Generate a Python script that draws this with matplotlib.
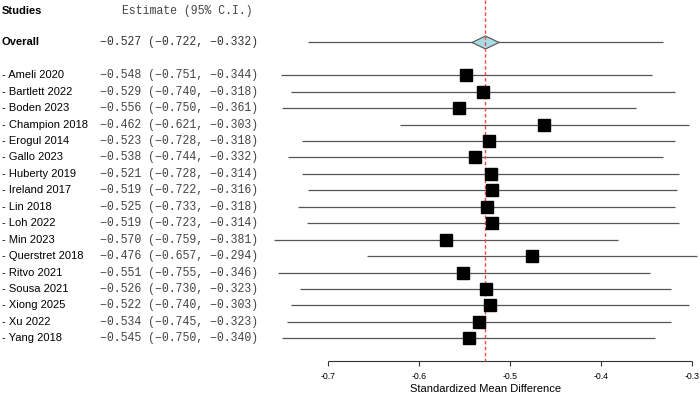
import numpy as np
import matplotlib.pyplot as plt
from matplotlib.path import Path

studies = ['Ameli 2020', 'Bartlett 2022', 'Boden 2023', 'Champion 2018', 'Erogul 2014',
           'Gallo 2023', 'Huberty 2019', 'Ireland 2017', 'Lin 2018', 'Loh 2022',
           'Min 2023', 'Querstret 2018', 'Ritvo 2021', 'Sousa 2021', 'Xiong 2025',
           'Xu 2022', 'Yang 2018']
est = [-0.548, -0.529, -0.556, -0.462, -0.523, -0.538, -0.521, -0.519, -0.525, -0.519,
       -0.570, -0.476, -0.551, -0.526, -0.522, -0.534, -0.545]
lower = [-0.751, -0.740, -0.750, -0.621, -0.728, -0.744, -0.728, -0.722, -0.733, -0.723,
         -0.759, -0.657, -0.755, -0.730, -0.740, -0.745, -0.750]
upper = [-0.344, -0.318, -0.361, -0.303, -0.318, -0.332, -0.314, -0.316, -0.318, -0.314,
         -0.381, -0.294, -0.346, -0.323, -0.303, -0.323, -0.340]
overall = (-0.527, -0.722, -0.332)
ticks = [-0.7, -0.6, -0.5, -0.4, -0.3]

W, H = 700, 395
x0_px, ppu = 327.7, 910.0      # pixel of -0.7, pixels per unit
row0_px, row_px = 75.3, 16.44  # pixel of first study row, row spacing

fig = plt.figure(figsize=(W / 100, H / 100), dpi=100)
ax = fig.add_axes([0, 0, 1, 1])
ax.set_xlim(-0.7 - x0_px / ppu, -0.7 + (W - x0_px) / ppu)
ytop = -row0_px / row_px
ax.set_ylim((H - row0_px) / row_px, ytop)
ax.axis('off')

rows = np.arange(len(studies))
ov_row = -2
head_row = -3.9
axis_row = 17.4

# CI lines and squares
ax.hlines(rows, lower, upper, color='#555555', lw=0.9, zorder=2)
ax.hlines(ov_row, overall[1], overall[2], color='#555555', lw=0.9, zorder=2)
ax.plot(est, rows, 's', ms=9, color='black', zorder=5)

# overall diamond
diamond = Path([(-1, 0), (0, 0.48), (1, 0), (0, -0.48), (-1, 0)])
ax.plot(overall[0], ov_row, marker=diamond, ms=19.5, mfc='#a9dbe2',
        mec='#555555', mew=0.8, zorder=3)

# reference line
ax.vlines(overall[0], ytop, axis_row, color='#ff4444', lw=1.0,
          linestyles=(0, (2.5, 1.8)), zorder=4)

# x axis
ax.hlines(axis_row, ticks[0], ticks[-1], color='#333333', lw=0.8)
ax.vlines(ticks, axis_row, axis_row + 0.3, color='#333333', lw=0.8)
for t in ticks:
    ax.text(t, axis_row + 0.95, f'{t:.1f}', ha='center', va='center',
            fontsize=6.3, family='Liberation Sans')
ax.text(overall[0], axis_row + 1.7, 'Standardized Mean Difference', ha='center',
        va='center', fontsize=8, family='Liberation Sans')

# text columns
tr = ax.get_yaxis_transform()
mono = ['Liberation Mono', 'DejaVu Sans Mono']

def fmt(e, l, u):
    return f'{e:.3f} ({l:.3f}, {u:.3f})'.replace('-', '\u2212')

ax.text(2 / W, head_row, 'Studies', transform=tr, va='center', fontsize=8,
        fontweight='bold', family='Liberation Sans')
ax.text(121.5 / W, head_row, 'Estimate (95% C.I.)', transform=tr, va='center',
        fontsize=8.3, family=mono, color='#444444')
ax.text(2 / W, ov_row, 'Overall', transform=tr, va='center', fontsize=8,
        fontweight='bold', family='Liberation Sans')
ax.text(100 / W, ov_row, fmt(*overall), transform=tr, va='center',
        fontsize=8.3, family=mono, color='#333333')
for r, s, e, l, u in zip(rows, studies, est, lower, upper):
    ax.text(2 / W, r, '- ' + s, transform=tr, va='center', fontsize=8,
            family='Liberation Sans')
    ax.text(100 / W, r, fmt(e, l, u), transform=tr, va='center',
            fontsize=8.3, family=mono, color='#444444')

fig.savefig('out.png', dpi=100)
